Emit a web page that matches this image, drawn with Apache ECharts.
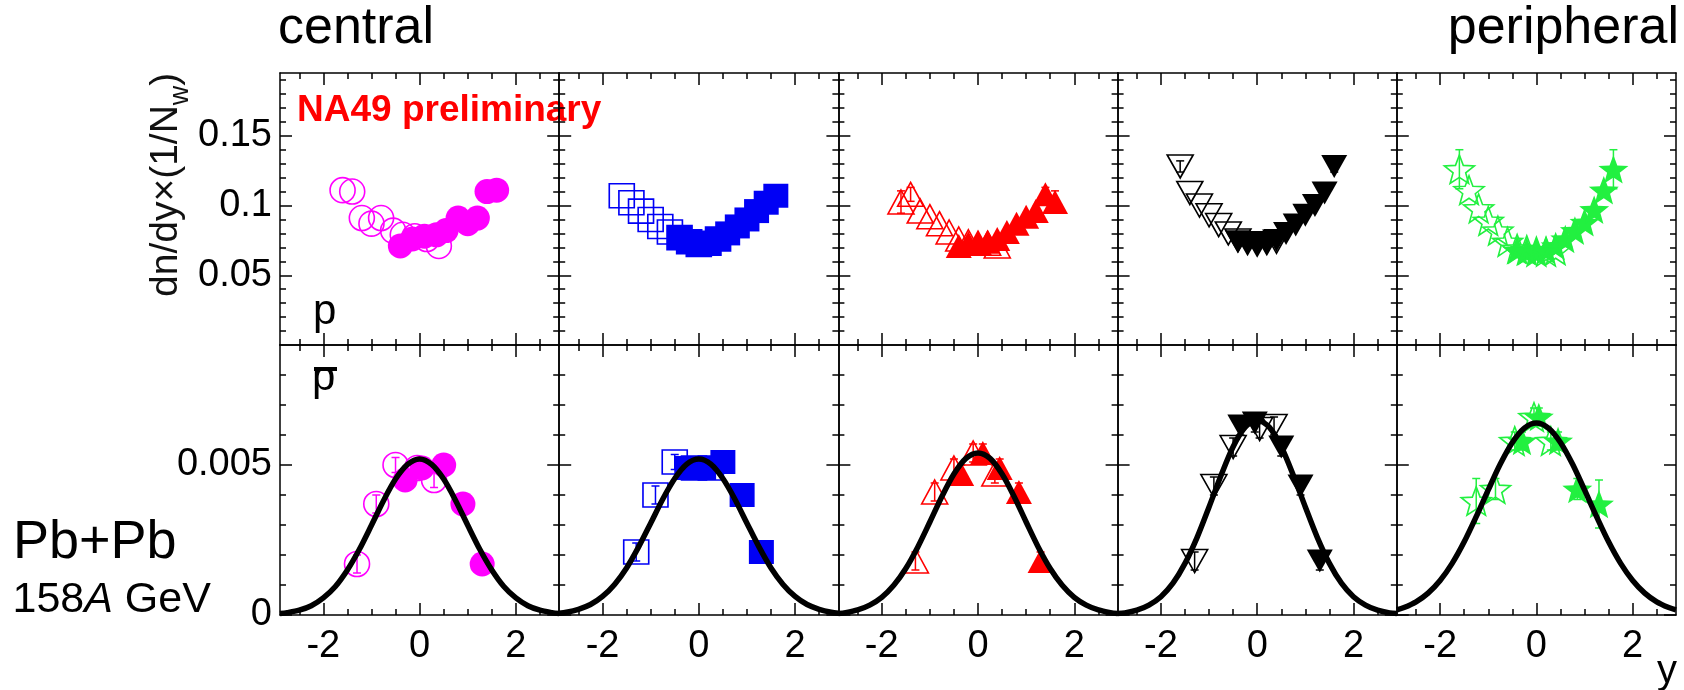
<!DOCTYPE html>
<html>
<head>
<meta charset="utf-8">
<script src="https://cdn.jsdelivr.net/npm/echarts@6/dist/echarts.min.js"></script>
<style>
  html, body { margin: 0; padding: 0; background: #fff; }
  #chart { width: 1684px; height: 690px; }
</style>
</head>
<body>
<div id="chart"></div>
<script>
// ---------------------------------------------------------------------------
// Proton and antiproton rapidity spectra, Pb+Pb at 158A GeV, five centrality
// bins from central (left) to peripheral (right).
// Rows of [rapidity y, dn/dy x (1/N_w), error]. "Filled" points are measured,
// "open" points are the reflected ones. An error of 0 draws no bar.
// ---------------------------------------------------------------------------

// axis tick values
const rapidityTicks = [-2, 0, 2];
const rapidityMinorTicks = [-2.5, -1.5, -1, -0.5, 0.5, 1, 1.5, 2.5];
const protonTicks = [0.05, 0.1, 0.15];
const protonMinorTicks = [0.01, 0.02, 0.03, 0.04, 0.06, 0.07, 0.08, 0.09, 0.11, 0.12, 0.13, 0.14, 0.16, 0.17, 0.18, 0.19];
const antiprotonTicks = [0, 0.005];
const antiprotonMinorTicks = [0.001, 0.002, 0.003, 0.004, 0.006, 0.007, 0.008];

// protons
const protonFilled1 = [[-0.4,0.071,0],[-0.15,0.076,0],[0.1,0.078,0],[0.35,0.079,0],[0.55,0.082,0],[0.8,0.091,0],[1.0,0.087,0],[1.2,0.091,0],[1.4,0.110,0],[1.6,0.111,0]];
const protonOpen1   = [[-1.6,0.111,0],[-1.4,0.110,0],[-1.2,0.091,0],[-1.0,0.087,0],[-0.8,0.091,0],[-0.55,0.082,0],[-0.35,0.079,0],[-0.1,0.078,0],[0.15,0.076,0],[0.4,0.071,0]];
const protonFilled2 = [[-0.4,0.077,0],[-0.2,0.074,0],[0,0.072,0],[0.2,0.073,0],[0.4,0.076,0],[0.6,0.080,0],[0.8,0.085,0],[1.0,0.090,0],[1.2,0.096,0],[1.4,0.102,0],[1.6,0.107,0]];
const protonOpen2   = [[-1.6,0.107,0],[-1.4,0.102,0],[-1.2,0.096,0],[-1.0,0.090,0],[-0.8,0.085,0],[-0.6,0.081,0],[-0.4,0.077,0],[-0.2,0.074,0],[0,0.072,0],[0.2,0.073,0],[0.4,0.076,0]];
const protonFilled3 = [[-0.4,0.071,0],[-0.2,0.073,0],[0,0.073,0],[0.2,0.074,0],[0.4,0.076,0],[0.6,0.081,0],[0.8,0.087,0],[1.0,0.092,0],[1.2,0.096,0],[1.4,0.108,0.005],[1.6,0.1025,0.008]];
const protonOpen3   = [[-1.6,0.1025,0.008],[-1.4,0.108,0.005],[-1.2,0.096,0],[-1.0,0.092,0],[-0.8,0.087,0],[-0.6,0.081,0],[-0.4,0.076,0],[-0.2,0.074,0],[0,0.073,0],[0.2,0.073,0],[0.4,0.071,0]];
const protonFilled4 = [[-0.4,0.074,0],[-0.2,0.073,0],[0,0.072,0],[0.2,0.073,0],[0.4,0.075,0],[0.6,0.080,0],[0.8,0.086,0],[1.0,0.093,0],[1.2,0.100,0],[1.4,0.109,0],[1.6,0.128,0.004]];
const protonOpen4   = [[-1.6,0.128,0.004],[-1.4,0.109,0],[-1.2,0.100,0],[-1.0,0.093,0],[-0.8,0.086,0],[-0.6,0.080,0],[-0.4,0.075,0],[-0.2,0.073,0],[0,0.072,0],[0.2,0.073,0],[0.4,0.074,0]];
const protonFilled5 = [[-0.4,0.068,0],[-0.2,0.067,0],[0,0.067,0],[0.2,0.068,0],[0.4,0.071,0],[0.6,0.076,0],[0.8,0.082,0],[1.0,0.088,0],[1.2,0.097,0],[1.4,0.111,0],[1.6,0.126,0.014]];
const protonOpen5   = [[-1.6,0.126,0.014],[-1.4,0.111,0],[-1.2,0.098,0],[-1.0,0.089,0],[-0.8,0.082,0],[-0.6,0.074,0],[-0.4,0.069,0],[-0.2,0.068,0],[0,0.067,0],[0.2,0.067,0],[0.4,0.068,0]];

// antiprotons
const antiprotonFilled1 = [[-0.3,0.0045,0.00025],[0.05,0.0049,0.00025],[0.5,0.0050,0.00025],[0.9,0.0037,0.0003],[1.3,0.0017,0.0003]];
const antiprotonOpen1   = [[-1.3,0.0017,0.0003],[-0.9,0.0037,0.0003],[-0.5,0.0050,0.00025],[-0.05,0.0049,0.00025],[0.3,0.0045,0.00025]];
const antiprotonFilled2 = [[-0.25,0.0049,0.00025],[0.1,0.0049,0.00025],[0.5,0.0051,0.00025],[0.9,0.0040,0.0003],[1.3,0.0021,0.0003]];
const antiprotonOpen2   = [[-1.3,0.0021,0.0003],[-0.9,0.0040,0.0003],[-0.5,0.0051,0.00025],[-0.1,0.0049,0.00025],[0.25,0.0049,0.00025]];
const antiprotonFilled3 = [[-0.35,0.0047,0.0003],[0.1,0.0054,0.0003],[0.45,0.0049,0.0003],[0.85,0.0041,0.0003],[1.3,0.0018,0.0003]];
const antiprotonOpen3   = [[-1.3,0.0018,0.0003],[-0.9,0.0041,0.0003],[-0.5,0.0049,0.0003],[-0.1,0.0054,0.0003],[0.35,0.0047,0.0003]];
const antiprotonFilled4 = [[-0.35,0.0063,0.0003],[-0.05,0.0064,0.0003],[0.5,0.0056,0.0003],[0.9,0.0043,0.0003],[1.3,0.0018,0.0003]];
const antiprotonOpen4   = [[-1.3,0.0018,0.0003],[-0.9,0.0043,0.0003],[-0.5,0.0056,0.0003],[0.05,0.0062,0.0003],[0.35,0.0063,0.0003]];
const antiprotonFilled5 = [[-0.3,0.0058,0.0003],[0.05,0.0066,0.0003],[0.45,0.0058,0.0003],[0.85,0.0042,0.00035],[1.3,0.0037,0.0008]];
const antiprotonOpen5   = [[-1.25,0.0038,0.00075],[-0.85,0.0042,0.00035],[-0.45,0.0058,0.0003],[-0.05,0.0066,0.0003],[0.3,0.0058,0.0003]];

// fitted antiproton curves, tabulated at fitRapidity
const fitRapidity = [-2.9, -2.75, -2.5, -2.25, -2, -1.75, -1.5, -1.25, -1, -0.75, -0.5, -0.25, 0,
                     0.25, 0.5, 0.75, 1, 1.25, 1.5, 1.75, 2, 2.25, 2.5, 2.75, 2.9];
const antiprotonFit1 = [0.00005, 0.00008, 0.00016, 0.00031, 0.00057, 0.00095, 0.00150, 0.00219, 0.00299, 0.00381, 0.00453, 0.00502, 0.0052,
                        0.00502, 0.00453, 0.00381, 0.00299, 0.00219, 0.00150, 0.00095, 0.00057, 0.00031, 0.00016, 0.00008, 0.00005];
const antiprotonFit2 = [0.00006, 0.00009, 0.00019, 0.00035, 0.00062, 0.00102, 0.00157, 0.00227, 0.00306, 0.00386, 0.00455, 0.00503, 0.0052,
                        0.00503, 0.00455, 0.00386, 0.00306, 0.00227, 0.00157, 0.00102, 0.00062, 0.00035, 0.00019, 0.00009, 0.00006];
const antiprotonFit3 = [0.00005, 0.00008, 0.00017, 0.00033, 0.00059, 0.00099, 0.00155, 0.00227, 0.00310, 0.00395, 0.00470, 0.00522, 0.0054,
                        0.00522, 0.00470, 0.00395, 0.00310, 0.00227, 0.00155, 0.00099, 0.00059, 0.00033, 0.00017, 0.00008, 0.00005];
const antiprotonFit4 = [0.00005, 0.00007, 0.00016, 0.00033, 0.00061, 0.00106, 0.00172, 0.00258, 0.00360, 0.00466, 0.00561, 0.00626, 0.0065,
                        0.00626, 0.00561, 0.00466, 0.00360, 0.00258, 0.00172, 0.00106, 0.00061, 0.00033, 0.00016, 0.00007, 0.00005];
const antiprotonFit5 = [0.00017, 0.00025, 0.00044, 0.00073, 0.00115, 0.00172, 0.00244, 0.00328, 0.00417, 0.00503, 0.00575, 0.00623, 0.0064,
                        0.00623, 0.00575, 0.00503, 0.00417, 0.00328, 0.00244, 0.00172, 0.00115, 0.00073, 0.00044, 0.00025, 0.00017];

const protonFilled = [protonFilled1, protonFilled2, protonFilled3, protonFilled4, protonFilled5];
const protonOpen = [protonOpen1, protonOpen2, protonOpen3, protonOpen4, protonOpen5];
const antiprotonFilled = [antiprotonFilled1, antiprotonFilled2, antiprotonFilled3, antiprotonFilled4, antiprotonFilled5];
const antiprotonOpen = [antiprotonOpen1, antiprotonOpen2, antiprotonOpen3, antiprotonOpen4, antiprotonOpen5];
const antiprotonFit = [antiprotonFit1, antiprotonFit2, antiprotonFit3, antiprotonFit4, antiprotonFit5];

// ---------------------------------------------------------------------------
// styling
// ---------------------------------------------------------------------------
const FONT = '"Liberation Sans", Arial, Helvetica, sans-serif';

// five-pointed star marker
function starPath(inner) {
  let d = '';
  for (let k = 0; k < 10; k++) {
    const r = k % 2 ? inner : 1;
    const a = -Math.PI / 2 + k * Math.PI / 5;
    d += (k ? 'L' : 'M') + (r * Math.cos(a)).toFixed(4) + ',' + (r * Math.sin(a)).toFixed(4);
  }
  return 'path://' + d + 'Z';
}

const markerStyles = [
  { color: '#ff00ff', symbol: 'circle', size: 25, rotate: 0 },
  { color: '#0000f5', symbol: 'rect', size: [25, 24], rotate: 0 },
  { color: '#ff0000', symbol: 'triangle', size: [26, 24], rotate: 0 },
  { color: '#000000', symbol: 'triangle', size: [26, 23], rotate: 180 },
  { color: '#22f040', symbol: starPath(0.42), size: 30, rotate: 0, keepAspect: true }
];

const PANEL_LEFT = 280;
const PANEL_W = 279.2;
const rows = [
  { top: 73, height: 272, max: 0.195, major: protonTicks, minor: protonMinorTicks, labels: protonTicks },
  { top: 345, height: 270, max: 0.009, major: antiprotonTicks, minor: antiprotonMinorTicks, labels: antiprotonTicks }
];

const AXIS_LINE = { color: '#000', width: 1.5 };

function axis(gridIndex, extra) {
  return Object.assign({
    type: 'value',
    gridIndex,
    z: 4,
    silent: true,
    splitLine: { show: false },
    axisPointer: { show: false }
  }, extra);
}

function frameAxis(gridIndex, min, max, position, ticks, labels, labelStyle) {
  return axis(gridIndex, {
    min, max, position,
    axisLine: { show: true, onZero: false, lineStyle: AXIS_LINE },
    axisTick: { show: true, inside: true, length: 12, customValues: ticks, lineStyle: AXIS_LINE },
    axisLabel: labels ? Object.assign({
      show: true, customValues: labels, color: '#000', fontFamily: FONT, fontSize: 38,
      formatter: v => String(v)
    }, labelStyle) : { show: false }
  });
}

function minorAxis(gridIndex, min, max, position, ticks) {
  return axis(gridIndex, {
    min, max, position,
    axisLine: { show: false, onZero: false },
    axisTick: { show: true, inside: true, length: 6, customValues: ticks, lineStyle: AXIS_LINE },
    axisLabel: { show: false }
  });
}

function errorBars(g, data, color) {
  return {
    type: 'custom', xAxisIndex: 4 * g, yAxisIndex: 4 * g, data, silent: true, z: 3,
    encode: { x: 0, y: 1 },
    renderItem(params, api) {
      const x = api.value(0), v = api.value(1), e = api.value(2);
      if (!(e > 0)) return null;
      const hi = api.coord([x, v + e]);
      const lo = api.coord([x, v - e]);
      const style = { stroke: color, lineWidth: 1.5, fill: null };
      return {
        type: 'group',
        children: [
          { type: 'line', shape: { x1: hi[0], y1: hi[1], x2: lo[0], y2: lo[1] }, style },
          { type: 'line', shape: { x1: hi[0] - 4, y1: hi[1], x2: hi[0] + 4, y2: hi[1] }, style },
          { type: 'line', shape: { x1: lo[0] - 4, y1: lo[1], x2: lo[0] + 4, y2: lo[1] }, style }
        ]
      };
    }
  };
}

function markers(g, data, st, filled) {
  return {
    type: 'scatter', xAxisIndex: 4 * g, yAxisIndex: 4 * g, data, silent: true,
    symbol: st.symbol, symbolSize: st.size, symbolRotate: st.rotate,
    symbolKeepAspect: !!st.keepAspect,
    itemStyle: filled
      ? { color: st.color, borderWidth: 0, opacity: 1 }
      : { color: 'rgba(0,0,0,0)', borderColor: st.color, borderWidth: 1.6, opacity: 1 },
    z: filled ? 2 : 3
  };
}

const grids = [], xAxes = [], yAxes = [], series = [];

rows.forEach((row, r) => {
  for (let i = 0; i < 5; i++) {
    const g = r * 5 + i;
    grids.push({ left: PANEL_LEFT + i * PANEL_W, top: row.top, width: PANEL_W, height: row.height });

    xAxes.push(frameAxis(g, -2.9, 2.9, 'bottom', rapidityTicks, r === 1 ? rapidityTicks : null, { margin: 13 }));
    xAxes.push(minorAxis(g, -2.9, 2.9, 'bottom', rapidityMinorTicks));
    xAxes.push(frameAxis(g, -2.9, 2.9, 'top', rapidityTicks, null));
    xAxes.push(minorAxis(g, -2.9, 2.9, 'top', rapidityMinorTicks));

    yAxes.push(frameAxis(g, 0, row.max, 'left', row.major, i === 0 ? row.labels : null, { margin: 8 }));
    yAxes.push(minorAxis(g, 0, row.max, 'left', row.minor));
    yAxes.push(frameAxis(g, 0, row.max, 'right', row.major, null));
    yAxes.push(minorAxis(g, 0, row.max, 'right', row.minor));

    const st = markerStyles[i];
    const filled = r === 0 ? protonFilled[i] : antiprotonFilled[i];
    const open = r === 0 ? protonOpen[i] : antiprotonOpen[i];
    series.push(markers(g, filled, st, true));
    series.push(errorBars(g, filled, st.color));
    series.push(markers(g, open, st, false));
    series.push(errorBars(g, open, st.color));
    if (r === 1) {
      series.push({
        type: 'line', xAxisIndex: 4 * g, yAxisIndex: 4 * g, silent: true,
        data: fitRapidity.map((y, k) => [y, antiprotonFit[i][k]]),
        smooth: 0.3, symbol: 'none', clip: true, z: 5,
        lineStyle: { color: '#000', width: 5.5 }
      });
    }
  }
});

// ---------------------------------------------------------------------------
// annotations
// ---------------------------------------------------------------------------
const measureCtx = document.createElement('canvas').getContext('2d');
function textWidth(str, font) {
  measureCtx.font = font;
  return measureCtx.measureText(str).width;
}

// place a text element by its alphabetic baseline
function label(text, x, baseline, size, extra) {
  const st = Object.assign({
    text, fontFamily: FONT, fontSize: size, fill: '#000',
    align: 'left', verticalAlign: 'middle'
  }, extra || {});
  return { type: 'text', x, y: baseline - 0.35 * size, z: 1, silent: true, style: st };
}

const TITLE_FS = 39, SUB_FS = 27;
const titleMain = 'dn/dy×(1/N';
const titleFont = `${TITLE_FS}px ${FONT}`;
const wMain = textWidth(titleMain, titleFont);
const wSub = textWidth('w', `${SUB_FS}px ${FONT}`);

const graphic = [
  label('central', 278, 47, 52),
  label('peripheral', 1679, 47, 52, { align: 'right' }),
  label('NA49 preliminary', 297, 123.5, 37, { fill: '#ff0000', fontWeight: 'bold' }),
  label('p', 313, 327, 42),
  label('p', 312, 393.5, 42),
  { type: 'rect', z: 1, silent: true, shape: { x: 314, y: 367, width: 23, height: 4 }, style: { fill: '#000' } },
  label('Pb+Pb', 13, 561.7, 54),
  {
    type: 'text', x: 12.5, y: 615 - 0.35 * 43, z: 1, silent: true,
    style: {
      text: '158{it|A} GeV', fontFamily: FONT, fontSize: 43, fill: '#000',
      align: 'left', verticalAlign: 'middle',
      rich: { it: { fontFamily: FONT, fontSize: 43, fontStyle: 'italic', fill: '#000' } }
    }
  },
  label('y', 1677, 686, 40, { align: 'right' }),
  {
    type: 'group', x: 180, y: 297, rotation: Math.PI / 2, silent: true, z: 1,
    children: [
      label(titleMain, 0, 0, TITLE_FS, { fill: '#111' }),
      label('w', wMain, 10, SUB_FS, { fill: '#111' }),
      label(')', wMain + wSub, 0, TITLE_FS, { fill: '#111' })
    ]
  }
];

const chart = echarts.init(document.getElementById('chart'), null, { renderer: 'canvas' });
chart.setOption({
  animation: false,
  backgroundColor: '#fff',
  textStyle: { fontFamily: FONT },
  grid: grids,
  xAxis: xAxes,
  yAxis: yAxes,
  series,
  graphic
});
</script>
</body>
</html>
